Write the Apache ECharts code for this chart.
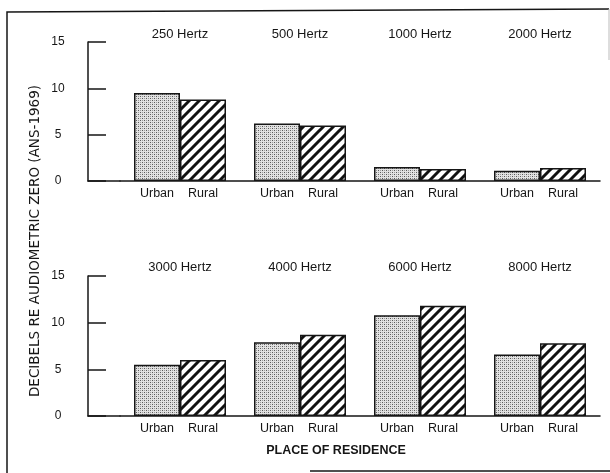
<!DOCTYPE html>
<html>
<head>
<meta charset="utf-8">
<script src="https://cdn.jsdelivr.net/npm/echarts@6/dist/echarts.min.js"></script>
<style>
  html, body { margin: 0; padding: 0; background: #fff; }
  #chart { width: 610px; height: 473px; }
</style>
</head>
<body>
<div id="chart"></div>
<script>
  // frequencies per panel
  const hzTop = ['250 Hertz', '500 Hertz', '1000 Hertz', '2000 Hertz'];
  const hzBottom = ['3000 Hertz', '4000 Hertz', '6000 Hertz', '8000 Hertz'];
  // decibels re audiometric zero
  const urbanTop = [9.5, 6.2, 1.5, 1.1];
  const ruralTop = [8.8, 6.0, 1.3, 1.4];
  const urbanBottom = [5.5, 7.9, 10.8, 6.6];
  const ruralBottom = [6.0, 8.7, 11.8, 7.8];
  const yMin = 0, yMax = 15, yStep = 5;

  const font = 'Liberation Sans, Arial, sans-serif';
  const ink = '#161616';

  // stipple fill for urban bars
  function stipple() {
    const c = document.createElement('canvas');
    c.width = 4; c.height = 4;
    const ctx = c.getContext('2d');
    ctx.fillStyle = '#e2e2e2';
    ctx.fillRect(0, 0, 4, 4);
    ctx.fillStyle = '#5a5a5a';
    ctx.fillRect(0, 0, 1, 1);
    ctx.fillRect(2, 2, 1, 1);
    ctx.fillStyle = '#9c9c9c';
    ctx.fillRect(2, 0, 1, 1);
    ctx.fillRect(0, 2, 1, 1);
    return c;
  }
  // diagonal hatch for rural bars
  function hatch() {
    const s = 10;
    const c = document.createElement('canvas');
    c.width = s; c.height = s;
    const ctx = c.getContext('2d');
    ctx.fillStyle = '#fff';
    ctx.fillRect(0, 0, s, s);
    ctx.strokeStyle = '#111';
    ctx.lineWidth = 3;
    ctx.beginPath();
    ctx.moveTo(0, s); ctx.lineTo(s, 0);
    ctx.moveTo(-s / 2, s / 2); ctx.lineTo(s / 2, -s / 2);
    ctx.moveTo(s / 2, s * 1.5); ctx.lineTo(s * 1.5, s / 2);
    ctx.stroke();
    return c;
  }
  const urbanFill = { image: stipple(), repeat: 'repeat' };
  const ruralFill = { image: hatch(), repeat: 'repeat' };

  const chart = echarts.init(document.getElementById('chart'));

  function baseAxis(grid, data) {
    return {
      type: 'category', gridIndex: grid, data: data,
      axisLine: { lineStyle: { color: ink, width: 1.5 } },
      axisTick: { show: false },
      axisLabel: { show: false }
    };
  }
  function titleAxis(grid, data, margin) {
    return {
      type: 'category', gridIndex: grid, data: data, position: 'top',
      axisLine: { show: false },
      axisTick: { show: false },
      axisLabel: { margin: margin, color: ink, fontSize: 13, fontFamily: font }
    };
  }
  function valueAxis(grid) {
    return {
      type: 'value', gridIndex: grid, min: yMin, max: yMax, interval: yStep,
      offset: 32,
      axisLine: { show: true, lineStyle: { color: ink, width: 1.5 } },
      axisTick: { show: true, inside: true, length: 18, lineStyle: { color: ink, width: 1.5 } },
      axisLabel: { margin: 30, align: 'center', color: ink, fontSize: 12, fontFamily: font },
      splitLine: { show: false }
    };
  }
  // short stretch of baseline between y axis and first category band
  function stubX(grid) {
    return {
      type: 'value', gridIndex: grid, min: 0, max: 1,
      axisLine: { show: true, onZero: false, lineStyle: { color: ink, width: 1.5 } },
      axisTick: { show: false }, axisLabel: { show: false }, splitLine: { show: false }
    };
  }
  function stubY(grid) {
    return { type: 'value', gridIndex: grid, min: 0, max: 1, show: false };
  }
  function bars(name, xi, yi, data, fill) {
    return {
      name: name, type: 'bar', xAxisIndex: xi, yAxisIndex: yi, data: data,
      barWidth: 46, barGap: '0%',
      itemStyle: { color: fill, borderColor: ink, borderWidth: 1.5 },
      label: {
        show: true, position: 'bottom', distance: 6, formatter: '{a}',
        color: ink, fontSize: 12.5, fontFamily: font
      },
      silent: true
    };
  }

  const option = {
    backgroundColor: '#fff',
    animation: false,
    grid: [
      { left: 120, top: 42, width: 480, height: 139 },
      { left: 120, top: 276, width: 480, height: 140 },
      { left: 88, top: 42, width: 32, height: 139 },
      { left: 88, top: 276, width: 32, height: 140 }
    ],
    xAxis: [
      baseAxis(0, hzTop), titleAxis(0, hzTop, 1),
      baseAxis(1, hzBottom), titleAxis(1, hzBottom, 2),
      stubX(2), stubX(3)
    ],
    yAxis: [valueAxis(0), valueAxis(1), stubY(2), stubY(3)],
    series: [
      bars('Urban', 0, 0, urbanTop, urbanFill),
      bars('Rural', 0, 0, ruralTop, ruralFill),
      bars('Urban', 2, 1, urbanBottom, urbanFill),
      bars('Rural', 2, 1, ruralBottom, ruralFill)
    ],
    graphic: [
      {
        type: 'text', x: 336, y: 451, silent: true,
        style: {
          text: 'PLACE OF RESIDENCE', fill: ink, font: 'bold 12.5px ' + font,
          textAlign: 'center', textVerticalAlign: 'middle'
        }
      },
      {
        type: 'text', x: 35, y: 241, rotation: Math.PI / 2, silent: true,
        style: {
          text: 'DECIBELS RE AUDIOMETRIC ZERO (ANS-1969)', fill: ink,
          font: '13.5px DejaVu Sans, sans-serif',
          textAlign: 'center', textVerticalAlign: 'middle'
        }
      },
      // frame
      {
        type: 'polyline', silent: true,
        shape: { points: [[7, 473], [7, 12], [609, 9]] },
        style: { stroke: ink, lineWidth: 1.5, fill: null }
      },
      {
        type: 'line', silent: true,
        shape: { x1: 609, y1: 9, x2: 609, y2: 60 },
        style: { stroke: '#bbb', lineWidth: 1 }
      },
      {
        type: 'line', silent: true,
        shape: { x1: 310, y1: 471, x2: 610, y2: 471 },
        style: { stroke: ink, lineWidth: 1.5 }
      }
    ]
  };
  chart.setOption(option);
</script>
</body>
</html>
